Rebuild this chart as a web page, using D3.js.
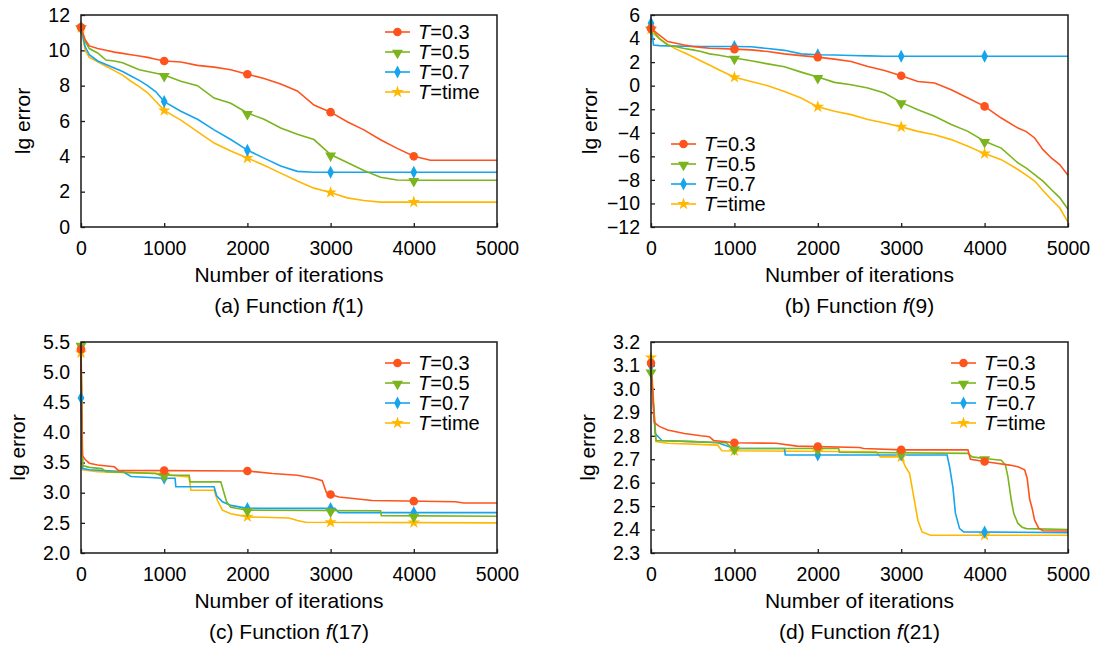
<!DOCTYPE html>
<meta charset="utf-8">

<head>
  <title>lg error vs iterations</title>
</head>

<style>
  body {
    margin: 0;
    background: #fff;
  }

  text {
    font-family: Arial, "Liberation Sans", sans-serif;
    fill: #000;
  }

  .frame {
    fill: none;
    stroke: #1a1a1a;
    stroke-width: 1.5;
  }

  .series {
    fill: none;
    stroke-width: 1.6;
  }
</style>

<body>
  <svg width="1094" height="648"></svg>

  <script src="https://cdnjs.cloudflare.com/ajax/libs/d3/7.8.5/d3.min.js"></script>
  <script>
    // shared
    var iterTicks = [0, 1000, 2000, 3000, 4000, 5000]
    var markIters = [0, 1000, 2000, 3000, 4000]
    var seriesKeys = ['0.3', '0.5', '0.7', 'time']
    var seriesColors = ['#FF531E', '#7AB51D', '#16A4EC', '#FFB700']
    var seriesShapes = ['circle', 'triangle', 'diamond', 'star']

    // (a) f(1)
    var f1YTicks = [0, 2, 4, 6, 8, 10, 12]
    var f1Iter = [0, 50, 100, 200, 300, 400, 500, 600, 700, 800, 900, 1000, 1200, 1400, 1600, 1800, 2000, 2200, 2400, 2600, 2800, 3000, 3200, 3400, 3600, 3800, 4000, 4200, 4400, 5000]
    var f1T03 = [11.3, 10.6, 10.25, 10.1, 10.0, 9.9, 9.83, 9.75, 9.68, 9.6, 9.5, 9.4, 9.34, 9.15, 9.05, 8.9, 8.65, 8.4, 8.1, 7.7, 6.9, 6.5, 5.96, 5.5, 4.94, 4.45, 4.0, 3.78, 3.78, 3.78]
    var f1T05 = [11.3, 10.5, 10.1, 9.85, 9.45, 9.4, 9.3, 9.1, 8.9, 8.8, 8.7, 8.6, 8.25, 8.0, 7.3, 7.0, 6.45, 6.1, 5.6, 5.25, 4.95, 4.1, 3.65, 3.2, 2.82, 2.66, 2.65, 2.65, 2.65, 2.65]
    var f1T07 = [11.3, 10.2, 9.75, 9.4, 9.2, 9.0, 8.8, 8.55, 8.3, 8.0, 7.65, 7.1, 6.55, 6.1, 5.5, 4.95, 4.35, 3.9, 3.45, 3.15, 3.1, 3.1, 3.1, 3.1, 3.1, 3.1, 3.1, 3.1, 3.1, 3.1]
    var f1Ttime = [11.3, 10.0, 9.6, 9.35, 9.1, 8.85, 8.6, 8.25, 7.95, 7.6, 7.1, 6.6, 6.05, 5.4, 4.75, 4.3, 3.9, 3.5, 3.05, 2.6, 2.2, 1.95, 1.65, 1.5, 1.41, 1.41, 1.41, 1.41, 1.41, 1.41]

    // (b) f(9)
    var f9YTicks = [-12, -10, -8, -6, -4, -2, 0, 2, 4, 6]
    var f9Iter = [0, 30, 100, 200, 300, 400, 500, 600, 700, 800, 1000, 1200, 1400, 1600, 1800, 2000, 2200, 2400, 2600, 2800, 3000, 3200, 3400, 3600, 3800, 4000, 4200, 4400, 4500, 4600, 4700, 4800, 4900, 5000]
    var f9T03 = [4.85, 4.7, 4.3, 3.74, 3.6, 3.45, 3.32, 3.25, 3.18, 3.15, 3.1, 3.04, 2.9, 2.7, 2.55, 2.42, 2.25, 2.05, 1.63, 1.29, 0.84, 0.36, 0.22, -0.35, -1.05, -1.76, -2.75, -3.6, -3.9, -4.44, -5.43, -6.14, -6.7, -7.6]
    var f9T05 = [4.85, 4.6, 4.0, 3.46, 3.3, 3.15, 3.04, 2.9, 2.7, 2.6, 2.35, 2.11, 1.85, 1.6, 1.15, 0.73, 0.28, 0.08, -0.2, -0.63, -1.42, -2.04, -2.6, -3.3, -3.88, -4.72, -5.3, -6.56, -7.0, -7.55, -8.1, -8.82, -9.5, -10.5]
    var f9T07 = [5.3, 3.45, 3.4, 3.38, 3.36, 3.35, 3.34, 3.33, 3.33, 3.32, 3.32, 3.3, 3.15, 3.0, 2.7, 2.63, 2.6, 2.56, 2.53, 2.5, 2.5, 2.5, 2.5, 2.5, 2.5, 2.5, 2.5, 2.5, 2.5, 2.5, 2.5, 2.5, 2.5, 2.5]
    var f9Ttime = [4.8, 4.4, 4.0, 3.5, 3.1, 2.8, 2.45, 2.1, 1.75, 1.4, 0.72, 0.36, 0.0, -0.49, -1.05, -1.8, -2.18, -2.46, -2.88, -3.17, -3.5, -3.88, -4.16, -4.58, -5.14, -5.77, -6.28, -7.12, -7.6, -8.1, -8.9, -9.66, -10.37, -11.58]

    // (c) f(17)
    var f17YTicks = [2.0, 2.5, 3.0, 3.5, 4.0, 4.5, 5.0, 5.5]
    var f17T03x = [0, 15, 50, 100, 200, 400, 450, 2000, 2300, 2600, 2800, 2900, 2950, 3000, 3100, 3300, 3500, 4500, 4600, 5000]
    var f17T03y = [5.38, 3.62, 3.55, 3.49, 3.46, 3.43, 3.37, 3.36, 3.32, 3.29, 3.24, 3.2, 3.0, 2.97, 2.93, 2.9, 2.87, 2.85, 2.83, 2.83]
    var f17T05x = [0, 20, 100, 250, 300, 900, 950, 1300, 1310, 1680, 1750, 1800, 2000, 3600, 3610, 5000]
    var f17T05y = [5.45, 3.45, 3.42, 3.40, 3.35, 3.32, 3.29, 3.29, 3.18, 3.18, 2.85, 2.76, 2.71, 2.70, 2.62, 2.61]
    var f17T07x = [0, 20, 100, 500, 600, 1000, 1130, 1140, 1600, 1630, 1700, 1800, 2000, 3050, 3100, 5000]
    var f17T07y = [4.57, 3.40, 3.38, 3.35, 3.27, 3.24, 3.24, 3.10, 3.10, 2.95, 2.85, 2.79, 2.74, 2.74, 2.67, 2.67]
    var f17Ttimex = [0, 20, 200, 900, 1000, 1300, 1320, 1600, 1640, 1700, 1800, 2000, 2500, 2600, 2700, 5000]
    var f17Ttimey = [5.32, 3.38, 3.35, 3.32, 3.30, 3.26, 3.04, 3.04, 2.87, 2.71, 2.65, 2.6, 2.58, 2.54, 2.51, 2.5]

    // (d) f(21)
    var f21YTicks = [2.3, 2.4, 2.5, 2.6, 2.7, 2.8, 2.9, 3.0, 3.1, 3.2]
    var f21T03x = [0, 40, 100, 200, 400, 600, 700, 750, 1000, 1500, 1750, 2500, 2550, 3000, 3800, 3830, 4000, 4100, 4300, 4400, 4480, 4510, 4540, 4570, 4600, 4650, 4700, 5000]
    var f21T03y = [3.11, 2.856, 2.84, 2.825, 2.81, 2.80, 2.796, 2.78, 2.77, 2.768, 2.756, 2.75, 2.746, 2.74, 2.74, 2.70, 2.69, 2.685, 2.675, 2.668, 2.655, 2.62, 2.53, 2.49, 2.44, 2.405, 2.395, 2.394]
    var f21T05x = [0, 60, 500, 900, 950, 1000, 2250, 2260, 3800, 3850, 4000, 4200, 4250, 4280, 4320, 4350, 4400, 4450, 4500, 5000]
    var f21T05y = [3.074, 2.78, 2.775, 2.77, 2.755, 2.746, 2.746, 2.73, 2.725, 2.71, 2.703, 2.696, 2.675, 2.625, 2.525, 2.468, 2.426, 2.41, 2.404, 2.40]
    var f21T07x = [0, 50, 130, 500, 800, 1000, 1600, 1610, 3550, 3580, 3620, 3650, 3700, 3750, 5000]
    var f21T07y = [3.10, 2.81, 2.78, 2.775, 2.77, 2.746, 2.746, 2.718, 2.718, 2.668, 2.58, 2.47, 2.404, 2.39, 2.387]
    var f21Ttimex = [0, 60, 200, 800, 850, 2700, 2750, 3000, 3050, 3100, 3150, 3200, 3250, 3350, 5000]
    var f21Ttimey = [3.134, 2.775, 2.768, 2.76, 2.736, 2.732, 2.71, 2.71, 2.668, 2.64, 2.54, 2.44, 2.39, 2.376, 2.376]

    var panels = [{
      tag: 'a', fn: '1', yDomain: [0, 12], yTicks: f1YTicks, fmt: d3.format('d'),
      left: 81, right: 497, top: 15, bottom: 227, ylabX: 23, legX: 385, legY: 32,
      series: [[f1Iter, f1T03], [f1Iter, f1T05], [f1Iter, f1T07], [f1Iter, f1Ttime]]
    }, {
      tag: 'b', fn: '9', yDomain: [-12, 6], yTicks: f9YTicks, fmt: d3.format('d'),
      left: 651, right: 1068, top: 15, bottom: 227, ylabX: 590, legX: 671, legY: 144,
      series: [[f9Iter, f9T03], [f9Iter, f9T05], [f9Iter, f9T07], [f9Iter, f9Ttime]]
    }, {
      tag: 'c', fn: '17', yDomain: [2.0, 5.5], yTicks: f17YTicks, fmt: d3.format('.1f'),
      left: 81, right: 497, top: 342, bottom: 553, ylabX: 18, legX: 385, legY: 363,
      series: [[f17T03x, f17T03y], [f17T05x, f17T05y], [f17T07x, f17T07y], [f17Ttimex, f17Ttimey]]
    }, {
      tag: 'd', fn: '21', yDomain: [2.3, 3.2], yTicks: f21YTicks, fmt: d3.format('.1f'),
      left: 651, right: 1068, top: 342, bottom: 553, ylabX: 588, legX: 951, legY: 363,
      series: [[f21T03x, f21T03y], [f21T05x, f21T05y], [f21T07x, f21T07y], [f21Ttimex, f21Ttimey]]
    }]

    var svg = d3.select('svg')

    function valueAt(xs, ys, t) {
      var i = d3.bisectLeft(xs, t)
      if (i <= 0) return ys[0]
      if (i >= xs.length) return ys[ys.length - 1]
      var x0 = xs[i - 1], x1 = xs[i]
      return ys[i - 1] + (ys[i] - ys[i - 1]) * (t - x0) / (x1 - x0)
    }

    function drawMarker(g, shape, color, cx, cy) {
      var p
      if (shape === 'circle') {
        p = g.append('path').attr('d', d3.symbol(d3.symbolCircle, 58)())
          .attr('transform', 'translate(' + cx + ',' + cy + ')')
      } else if (shape === 'triangle') {
        p = g.append('path').attr('d', d3.symbol(d3.symbolTriangle, 52)())
          .attr('transform', 'translate(' + cx + ',' + (cy + 1) + ') rotate(180)')
      } else if (shape === 'diamond') {
        p = g.append('path').attr('d', 'M0,-6.5L3.4,0L0,6.5L-3.4,0Z')
          .attr('transform', 'translate(' + cx + ',' + cy + ')')
      } else {
        p = g.append('path').attr('d', d3.symbol(d3.symbolStar, 48)())
          .attr('transform', 'translate(' + cx + ',' + cy + ')')
      }
      p.attr('fill', color)
    }

    panels.forEach(function(p) {
      var g = svg.append('g')
      var x = d3.scaleLinear().domain([0, 5000]).range([p.left, p.right])
      var y = d3.scaleLinear().domain(p.yDomain).range([p.bottom, p.top])

      var xAxis = g.append('g')
        .attr('transform', 'translate(0,' + p.bottom + ')')
        .call(d3.axisBottom(x).tickValues(iterTicks).tickSize(-4).tickPadding(14).tickFormat(d3.format('d')))
      var yAxis = g.append('g')
        .attr('transform', 'translate(' + p.left + ',0)')
        .call(d3.axisLeft(y).tickValues(p.yTicks).tickSize(-4).tickPadding(11).tickFormat(p.fmt))
      ;[xAxis, yAxis].forEach(function(a) {
        a.select('.domain').remove()
        a.selectAll('.tick line').attr('stroke', '#1a1a1a').attr('stroke-width', 1.3)
        a.selectAll('.tick text').style('font-size', '19.5px').attr('fill', '#000')
          .style('font-family', 'Arial, "Liberation Sans", sans-serif')
      })

      var line = d3.line()
        .x(function(d) { return x(d[0]) })
        .y(function(d) { return y(d[1]) })

      // draw back to front: time, 0.7, 0.5, 0.3
      d3.range(3, -1, -1).forEach(function(k) {
        var xs = p.series[k][0], ys = p.series[k][1]
        g.append('path')
          .attr('class', 'series')
          .attr('stroke', seriesColors[k])
          .attr('d', line(xs.map(function(v, i) { return [v, ys[i]] })))
      })
      d3.range(3, -1, -1).forEach(function(k) {
        var xs = p.series[k][0], ys = p.series[k][1]
        markIters.forEach(function(t) {
          drawMarker(g, seriesShapes[k], seriesColors[k], x(t), y(valueAt(xs, ys, t)))
        })
      })

      g.append('rect')
        .attr('class', 'frame')
        .attr('x', p.left)
        .attr('y', p.top)
        .attr('width', p.right - p.left)
        .attr('height', p.bottom - p.top)

      // legend
      seriesKeys.forEach(function(key, k) {
        var ly = p.legY + k * 20
        g.append('line')
          .attr('x1', p.legX).attr('x2', p.legX + 25)
          .attr('y1', ly).attr('y2', ly)
          .attr('stroke', seriesColors[k]).attr('stroke-width', 1.6)
        drawMarker(g, seriesShapes[k], seriesColors[k], p.legX + 12.5, ly)
        var t = g.append('text')
          .attr('x', p.legX + 33)
          .attr('y', ly + 7)
          .style('font-size', '20px')
        t.append('tspan').style('font-style', 'italic').text('T')
        t.append('tspan').text('=' + key)
      })

      var cx = (p.left + p.right) / 2
      g.append('text')
        .attr('x', cx)
        .attr('y', p.bottom + 55)
        .attr('text-anchor', 'middle')
        .style('font-size', '21px')
        .text('Number of iterations')

      var cap = g.append('text')
        .attr('x', cx)
        .attr('y', p.bottom + 86)
        .attr('text-anchor', 'middle')
        .style('font-size', '21px')
      cap.append('tspan').text('(' + p.tag + ') Function ')
      cap.append('tspan').style('font-style', 'italic').text('f')
      cap.append('tspan').text('(' + p.fn + ')')

      g.append('text')
        .attr('transform', 'translate(' + p.ylabX + ',' + ((p.top + p.bottom) / 2) + ') rotate(-90)')
        .attr('text-anchor', 'middle')
        .attr('dy', '0.35em')
        .style('font-size', '21px')
        .text('lg error')
    })
  </script>
</body>

</html>
